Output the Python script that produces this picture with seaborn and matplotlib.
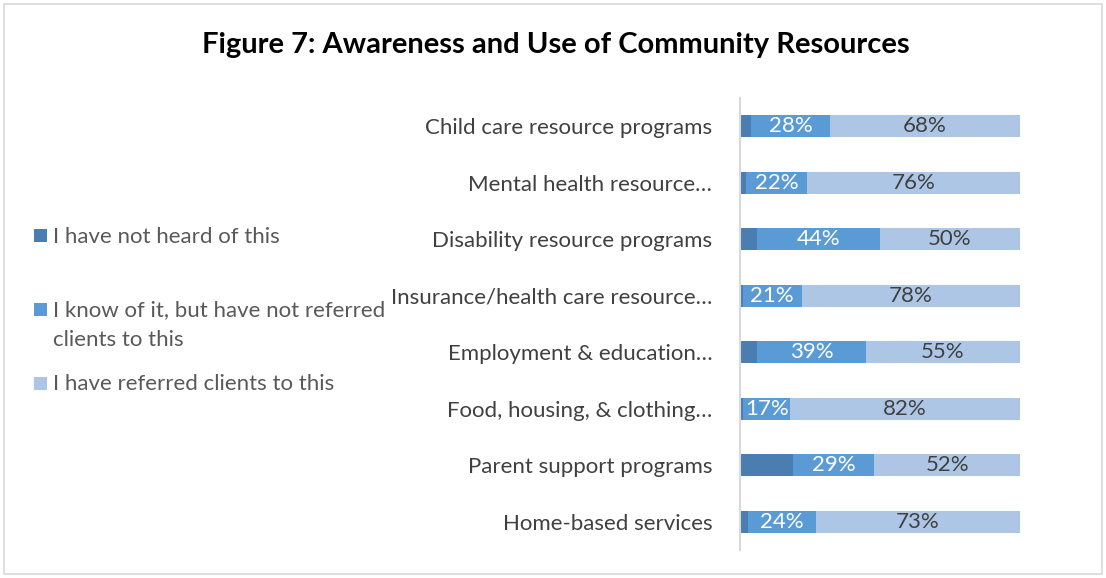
import matplotlib
matplotlib.use("Agg")
import matplotlib.pyplot as plt
from matplotlib.patches import Rectangle
import seaborn as sns
import pandas as pd

categories = [
    "Child care resource programs",
    "Mental health resource\u2026",
    "Disability resource programs",
    "Insurance/health care resource\u2026",
    "Employment & education\u2026",
    "Food, housing, & clothing\u2026",
    "Parent support programs",
    "Home-based services",
]
not_heard = [4, 2, 6, 1, 6, 1, 19, 3]
know_not_referred = [28, 22, 44, 21, 39, 17, 29, 24]
referred = [68, 76, 50, 78, 55, 82, 52, 73]

series_names = [
    "I have not heard of this",
    "I know of it, but have not referred\nclients to this",
    "I have referred clients to this",
]
colors = ["#4A7EB0", "#5B9BD5", "#ADC6E5"]

sns.set_theme(style="white")
plt.rcParams["font.family"] = ["Lato", "DejaVu Sans"]

W, H = 1106, 578

df = pd.DataFrame({
    "category": categories,
    "s1": not_heard,
    "s2": know_not_referred,
    "s3": referred,
})
df["c1"] = df["s1"]
df["c2"] = df["s1"] + df["s2"]
df["c3"] = df["s1"] + df["s2"] + df["s3"]

fig = plt.figure(figsize=(W / 100, H / 100), dpi=100)
ax = fig.add_axes([740 / W, 28 / H, 280 / W, 452 / H])

# stacked bars: draw cumulative totals from the outermost segment inward
for col, color in zip(["c3", "c2", "c1"], colors[::-1]):
    sns.barplot(data=df, x=col, y="category", color=color, orient="h",
                width=0.39, ax=ax, saturation=1, edgecolor="none")

ax.set_xlim(0, 100)
ax.set_ylim(7.5, -0.5)
ax.set_xlabel("")
ax.set_ylabel("")
ax.set_xticks([])
ax.tick_params(axis="y", length=0, pad=20, labelsize=16, labelcolor="#404040")
for side in ["top", "right", "bottom"]:
    ax.spines[side].set_visible(False)
ax.spines["left"].set_color("#D9D9D9")
ax.spines["left"].set_linewidth(1.5)

# value labels on the two larger segments
for i, row in df.iterrows():
    ax.text(row["s1"] + row["s2"] / 2, i, f"{row['s2']}%", ha="center",
            va="center", color="white", fontsize=16)
    ax.text(row["c2"] + row["s3"] / 2, i, f"{row['s3']}%", ha="center",
            va="center", color="#404040", fontsize=16)

fig.text(556 / W, 1 - 45 / H, "Figure 7: Awareness and Use of Community Resources",
         ha="center", va="center", fontsize=21, fontweight="bold", color="black")

# legend on the left; each marker sits beside the first line of its label
legend_rows = [236, 309, 383]
for name, color, yp in zip(series_names, colors, legend_rows):
    fig.patches.append(Rectangle((34 / W, 1 - (yp + 6.5) / H), 13 / W, 13 / H,
                                 transform=fig.transFigure, facecolor=color,
                                 edgecolor="none"))
    fig.text(53 / W, 1 - (yp - 9) / H, name, ha="left", va="top",
             fontsize=16, color="#595959", linespacing=1.6)

# outer frame
fig.patches.append(Rectangle((4 / W, 4 / H), 1098 / W, 570 / H,
                             transform=fig.transFigure, facecolor="none",
                             edgecolor="#D9D9D9", linewidth=1.2))

fig.savefig("out.png", dpi=100)
